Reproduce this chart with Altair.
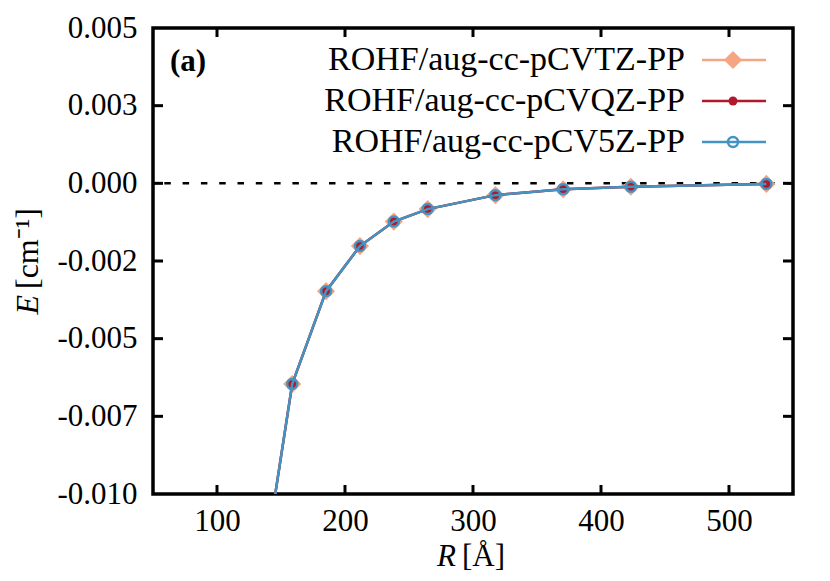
import altair as alt
import pandas as pd

# ---- data ----
R = [132.29, 158.75, 185.21, 211.67, 238.13, 264.59, 317.51, 370.42, 423.34, 529.18]
E_TZ = [-0.01354, -0.00646, -0.00347, -0.00202, -0.00123, -0.00083, -0.00038, -0.00019, -0.00011, -0.00002]
E_QZ = [-0.01354, -0.00646, -0.00347, -0.00202, -0.00123, -0.00083, -0.00038, -0.00019, -0.00011, -0.00002]
E_5Z = [-0.01354, -0.00646, -0.00347, -0.00202, -0.00123, -0.00083, -0.00038, -0.00019, -0.00011, -0.00002]

series_labels = ["ROHF/aug-cc-pCVTZ-PP", "ROHF/aug-cc-pCVQZ-PP", "ROHF/aug-cc-pCV5Z-PP"]
series_colors = ["#f4a582", "#b2182b", "#4393c3"]

x_ticks = [100, 200, 300, 400, 500]
y_ticks = [-0.01, -0.0075, -0.005, -0.0025, 0.0, 0.0025, 0.005]
y_tick_labels = ["-0.010", "-0.007", "-0.005", "-0.002", "0.000", "0.003", "0.005"]
inner_y_ticks = [-0.0075, -0.005, -0.0025, 0.0, 0.0025]

FONT = "Liberation Serif"
W, H = 640, 466

xs = alt.Scale(domain=[50, 550], nice=False, zero=False)
ys = alt.Scale(domain=[-0.01, 0.005], nice=False, zero=False)

label_array = "[" + ",".join("'%s'" % s for s in y_tick_labels) + "]"
x_axis = alt.Axis(values=x_ticks, title=None, grid=False, domain=False, ticks=False, tickSize=0,
                  labelPadding=12, labelFont=FONT, labelFontSize=31, labelColor="black",
                  format="d", labelOverlap=False, labelFlush=False)
y_axis = alt.Axis(values=y_ticks, title=None, grid=False, domain=False, ticks=False, tickSize=0,
                  labelPadding=16, labelFont=FONT, labelFontSize=31, labelColor="black",
                  labelExpr=label_array + "[round((datum.value + 0.01) / 0.0025)]",
                  labelOverlap=False, labelFlush=False)

X = lambda: alt.X("R:Q", scale=xs, axis=x_axis)
Y = lambda: alt.Y("E:Q", scale=ys, axis=y_axis)

layers = []

# dashed zero line
zero_df = pd.DataFrame({"E": [0.0]})
layers.append(alt.Chart(zero_df).mark_rule(color="black", strokeWidth=2.5, strokeDash=[6.5, 11.8])
              .encode(y=Y()))

series = [
    (E_TZ, dict(shape="diamond", filled=True, size=330, opacity=1, strokeWidth=0)),
    (E_QZ, dict(shape="circle", filled=True, size=81, opacity=1, strokeWidth=0)),
    (E_5Z, dict(shape="circle", filled=False, size=100, opacity=1, strokeWidth=2.5)),
]
for (vals, pkw), color in zip(series, series_colors):
    df = pd.DataFrame({"R": R, "E": vals})
    base = alt.Chart(df)
    layers.append(base.mark_line(color=color, strokeWidth=2.5, clip=True).encode(x=X(), y=Y()))
    layers.append(base.mark_point(color=color, clip=True, **pkw).encode(x=X(), y=Y()))

# inward ticks
xt = pd.DataFrame({"R": x_ticks})
yt = pd.DataFrame({"E": inner_y_ticks})
layers.append(alt.Chart(xt).mark_rule(color="black", strokeWidth=3)
              .encode(x=X(), y=alt.value(H), y2=alt.value(H - 9)))
layers.append(alt.Chart(xt).mark_rule(color="black", strokeWidth=3)
              .encode(x=X(), y=alt.value(0), y2=alt.value(9)))
layers.append(alt.Chart(yt).mark_rule(color="black", strokeWidth=3)
              .encode(y=Y(), x=alt.value(0), x2=alt.value(10)))
layers.append(alt.Chart(yt).mark_rule(color="black", strokeWidth=3)
              .encode(y=Y(), x=alt.value(W), x2=alt.value(W - 10)))

# legend (markers to the right of labels, as in the reference)
one = pd.DataFrame({"k": [0]})
leg_y = [32, 73, 114]
for (vals, pkw), color, lab, ly in zip(series, series_colors, series_labels, leg_y):
    layers.append(alt.Chart(one).mark_text(text=lab, align="right", baseline="middle", font=FONT,
                                           fontSize=34, color="black")
                  .encode(x=alt.value(532), y=alt.value(ly)))
    layers.append(alt.Chart(one).mark_rule(color=color, strokeWidth=2.5)
                  .encode(x=alt.value(549), x2=alt.value(613), y=alt.value(ly)))
    layers.append(alt.Chart(one).mark_point(color=color, **pkw)
                  .encode(x=alt.value(580), y=alt.value(ly)))

# panel tag
layers.append(alt.Chart(one).mark_text(text="(a)", align="left", baseline="middle", font=FONT,
                                       fontSize=31, fontWeight="bold", color="black")
              .encode(x=alt.value(17), y=alt.value(34)))

# axis titles
layers.append(alt.Chart(one).mark_text(text="R", align="right", baseline="alphabetic", font=FONT,
                                       fontSize=31, fontStyle="italic", color="black")
              .encode(x=alt.value(303), y=alt.value(538)))
layers.append(alt.Chart(one).mark_text(text="[Å]", align="left", baseline="alphabetic", font=FONT,
                                       fontSize=31, color="black")
              .encode(x=alt.value(309), y=alt.value(538)))
layers.append(alt.Chart(one).mark_text(text="E", align="right", baseline="alphabetic", font=FONT,
                                       fontSize=32, fontStyle="italic", angle=270, color="black")
              .encode(x=alt.value(-115), y=alt.value(267)))
layers.append(alt.Chart(one).mark_text(text="[cm⁻¹]", align="left", baseline="alphabetic", font=FONT,
                                       fontSize=32, angle=270, color="black")
              .encode(x=alt.value(-115), y=alt.value(261)))

chart = alt.layer(*layers).properties(
    width=W, height=H,
    autosize=alt.AutoSizeParams(type="none"),
    padding={"left": 145, "top": 20, "right": 29, "bottom": 79},
    background="white",
).configure_view(stroke="black", strokeWidth=3.5)

chart.save("out.html", embed_options={"renderer": "svg", "actions": False})
